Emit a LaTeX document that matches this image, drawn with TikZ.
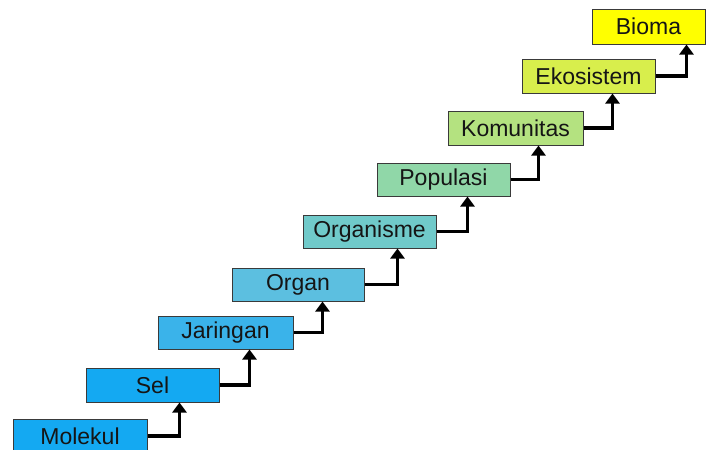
\documentclass[tikz,border=0pt]{standalone}
\usepackage{fontspec}
\setmainfont{Liberation Sans}
\usetikzlibrary{arrows.meta}
\definecolor{cMol}{HTML}{14A9F2}
\definecolor{cSel}{HTML}{14A9F2}
\definecolor{cJar}{HTML}{3AB3EA}
\definecolor{cOrg}{HTML}{5CBFE0}
\definecolor{cOrgs}{HTML}{70CACA}
\definecolor{cPop}{HTML}{90D7A8}
\definecolor{cKom}{HTML}{B4E280}
\definecolor{cEko}{HTML}{D8EE4C}
\definecolor{cBio}{HTML}{FFFF00}
\definecolor{cBorder}{HTML}{3A3A3A}
\definecolor{cText}{HTML}{151515}
\tikzset{
  lvl/.style={draw=cBorder, line width=1pt, rectangle, inner sep=0pt,
    minimum width=133pt, minimum height=34pt, text=cText,
    font=\fontsize{23}{27}\selectfont},
  conn/.style={line width=3.2pt, black, line join=miter,
    -{Triangle[width=14pt,length=10pt]}}
}
\begin{document}
\begin{tikzpicture}[x=1pt,y=-1pt]
\useasboundingbox (0,0) rectangle (716,450);
\clip (0,0) rectangle (716,450);
\fill[white] (0,0) rectangle (716,450);
\node[lvl, fill=cMol, minimum width=134pt] (mol) at (80,436) {Molekul};
\node[lvl, fill=cSel] (sel) at (152.5,385) {Sel};
\node[lvl, fill=cJar, minimum width=135pt, minimum height=33pt] (jar) at (225.5,332.5) {Jaringan};
\node[lvl, fill=cOrg, minimum width=132pt, minimum height=33pt] (org) at (298,284.5) {Organ};
\node[lvl, fill=cOrgs, minimum height=33pt] (orgs) at (369.5,231.5) {Organisme};
\node[lvl, fill=cPop, minimum height=33pt] (pop) at (443.5,179.5) {Populasi};
\node[lvl, fill=cKom, minimum width=135pt] (kom) at (515.5,128) {Komunitas};
\node[lvl, fill=cEko] (eko) at (588.5,76) {Ekosistem};
\node[lvl, fill=cBio, minimum width=113pt, minimum height=35pt] (bio) at (648.5,26.5) {Bioma};
\draw[conn] (mol.east) -| ([xshift=94pt]sel.south west);
\draw[conn] (sel.east) -| ([xshift=92pt]jar.south west);
\draw[conn] (jar.east) -| ([xshift=91pt]org.south west);
\draw[conn] (org.east) -| ([xshift=95pt]orgs.south west);
\draw[conn] (orgs.east) -| ([xshift=91pt]pop.south west);
\draw[conn] (pop.east) -| ([xshift=91pt]kom.south west);
\draw[conn] (kom.east) -| ([xshift=91pt]eko.south west);
\draw[conn] (eko.east) -| ([xshift=95pt]bio.south west);
\end{tikzpicture}
\end{document}
